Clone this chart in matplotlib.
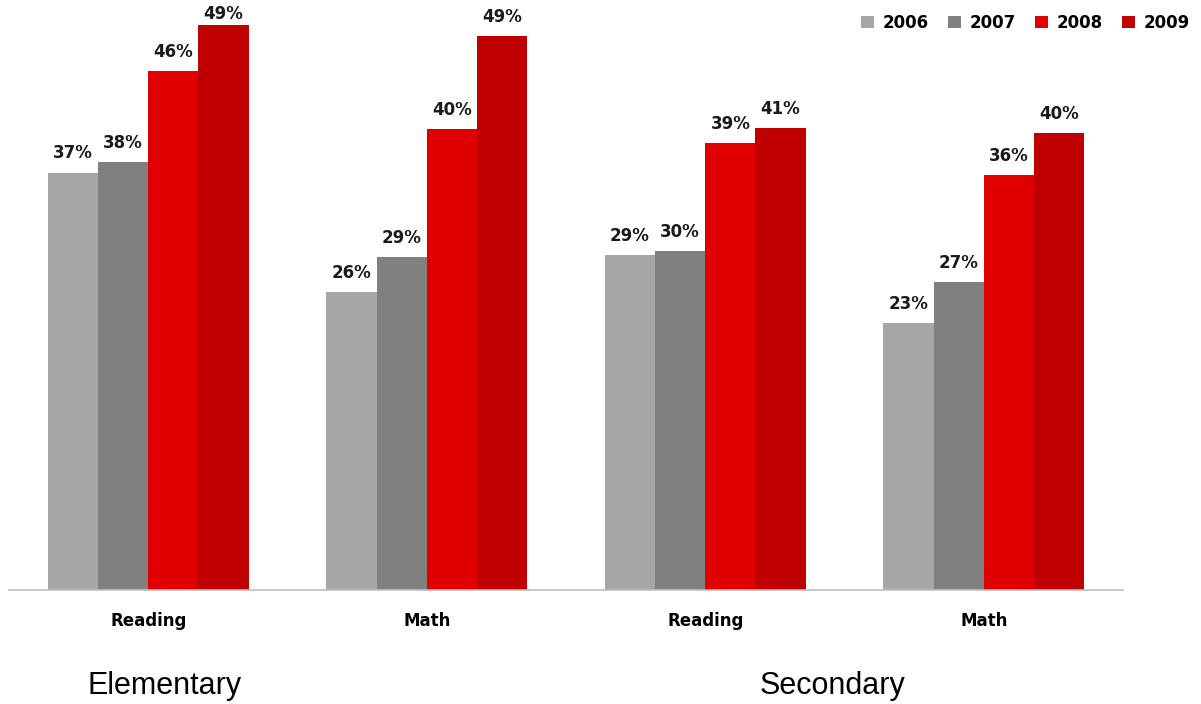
import matplotlib
matplotlib.use("Agg")
import matplotlib.pyplot as plt
import numpy as np

categories = ["Reading", "Math", "Reading", "Math"]
groups = ["Elementary", "Secondary"]
years = ["2006", "2007", "2008", "2009"]
colors = ["#a6a6a6", "#808080", "#e00000", "#c00000"]

# bar heights per year, across the 4 categories
v2006 = [36.6, 26.1, 29.4, 23.4]
v2007 = [37.5, 29.2, 29.7, 27.0]
v2008 = [45.5, 40.4, 39.2, 36.4]
v2009 = [49.6, 48.6, 40.5, 40.1]
# data labels as printed
l2006 = [37, 26, 29, 23]
l2007 = [38, 29, 30, 27]
l2008 = [46, 40, 39, 36]
l2009 = [49, 49, 41, 40]

series = [v2006, v2007, v2008, v2009]
labels = [l2006, l2007, l2008, l2009]

W, H = 1201, 704
fig = plt.figure(figsize=(W / 100, H / 100), dpi=100)
ax = fig.add_axes([9 / W, 114 / H, 1114 / W, 590 / H])

x = np.arange(len(categories))
bw = 0.18
handles = []
for i, (vals, labs) in enumerate(zip(series, labels)):
    xs = x + (i - 1.5) * bw
    b = ax.bar(xs, vals, width=bw, color=colors[i], label=years[i], zorder=2)
    handles.append(b)
    for xi, v, lab in zip(xs, vals, labs):
        ax.text(xi, min(v + 0.9, 49.75), f"{lab}%", ha="center", va="bottom",
                fontsize=12, fontweight="bold", color="#1a1a1a",
                family="DejaVu Sans", clip_on=False, zorder=3)

ax.set_xlim(-0.5, 3.5)
ax.set_ylim(0, 51.75)
ax.set_yticks([])
ax.set_xticks(x)
ax.set_xticklabels(categories, fontsize=12, fontweight="bold", family="DejaVu Sans")
ax.tick_params(axis="x", length=0, pad=16)
for s in ["top", "right", "left"]:
    ax.spines[s].set_visible(False)
ax.spines["bottom"].set_color("#bfbfbf")
ax.spines["bottom"].set_linewidth(1.2)

fig.text(165 / W, 1 - 686 / H, groups[0], ha="center", va="center",
         fontsize=22, family="Liberation Sans")
fig.text(832 / W, 1 - 686 / H, groups[1], ha="center", va="center",
         fontsize=22, family="Liberation Sans")

leg = fig.legend(handles=handles, labels=years, loc="upper right",
                 bbox_to_anchor=(1205 / W, 1 + 1 / H), ncol=4, frameon=False,
                 handlelength=0.75, handleheight=0.75, handletextpad=0.55,
                 columnspacing=1.15, prop={"size": 12, "weight": "bold", "family": "DejaVu Sans"})

fig.savefig("out.png", dpi=100, facecolor="white")
